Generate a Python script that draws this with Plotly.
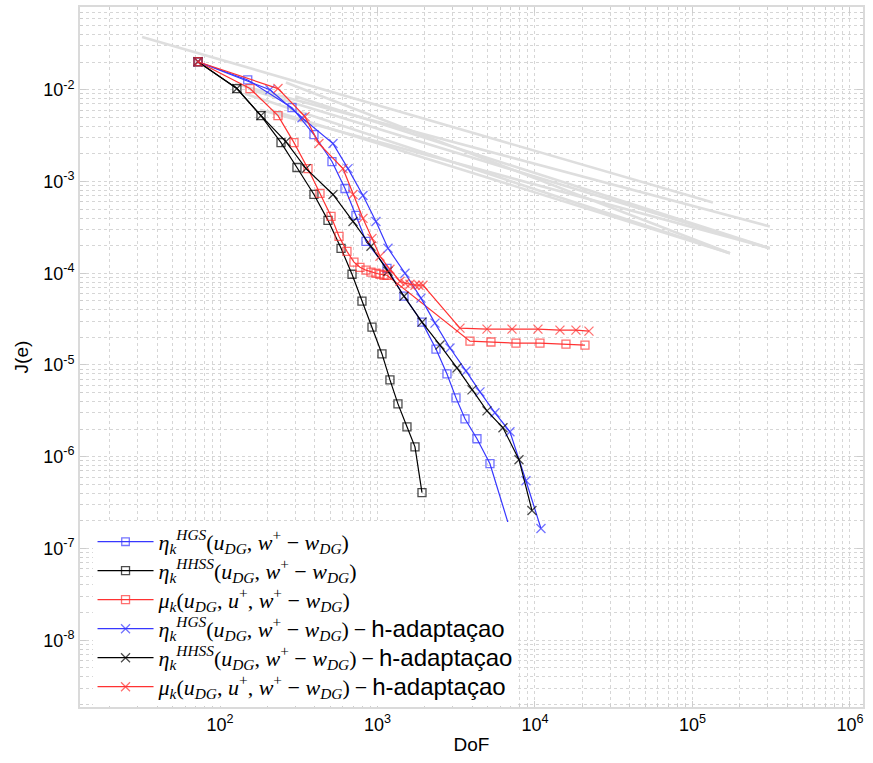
import plotly.graph_objects as go

# ---- error estimates vs degrees of freedom ----
# uniform refinement (squares)
dof_hgs = [72.5, 150, 286.5, 395, 514, 622, 730, 845, 1149, 1473, 1917, 2352, 2762, 3151, 3594, 4283, 5179, 7464]
err_hgs = [2.02e-2, 1.28e-2, 6.37e-3, 3.24e-3, 1.65e-3, 8.39e-4, 4.27e-4, 2.23e-4, 1.13e-4, 5.62e-5,
           2.93e-5, 1.49e-5, 7.98e-6, 4.38e-6, 2.59e-6, 1.57e-6, 8.39e-7, 1.08e-7]

dof_hhss = [72.5, 128, 182, 244, 308, 395, 485, 587, 689, 797, 923, 1068, 1200, 1349, 1539, 1730, 1917]
err_hhss = [2.02e-2, 1.03e-2, 5.22e-3, 2.65e-3, 1.42e-3, 7.22e-4, 3.77e-4, 1.87e-4, 9.75e-5, 4.96e-5,
            2.59e-5, 1.32e-5, 6.87e-6, 3.77e-6, 2.12e-6, 1.28e-6, 4.06e-7]

dof_mu = [72.5, 155, 233.5, 295, 362, 431.5, 507, 570, 640, 709, 774, 845, 909, 978, 1037, 1100, 1149,
          3867, 5255, 7576, 10757, 15733, 20776]
err_mu = [2.02e-2, 1.03e-2, 5.22e-3, 2.65e-3, 1.38e-3, 7.41e-4, 4.17e-4, 2.52e-4, 1.73e-4, 1.32e-4,
          1.16e-4, 1.08e-4, 1.03e-4, 1.0e-4, 9.75e-5, 9.51e-5, 9.51e-5,
          1.82e-5, 1.78e-5, 1.73e-5, 1.73e-5, 1.69e-5, 1.65e-5]

# h-adaptive refinement (crosses)
dof_hgs_h = [72.5, 207.7, 331.6, 522, 650, 809, 978, 1166, 1495, 1889, 2318, 2886, 3647, 4476, 5572,
             6938, 8768, 10916]
err_hgs_h = [2.02e-2, 1.0e-2, 4.96e-3, 2.59e-3, 1.38e-3, 7.04e-4, 3.67e-4, 1.87e-4, 1.0e-4, 5.35e-5,
             2.86e-5, 1.53e-5, 8.61e-6, 5.09e-6, 3.01e-6, 1.87e-6, 5.48e-7, 1.65e-7]

dof_hhss_h = [72.5, 128, 182, 262, 352, 522, 699, 909, 1166, 1473, 1917, 2494, 3198, 3981, 4957, 6264,
              7917, 9572]
err_hhss_h = [2.02e-2, 1.03e-2, 5.22e-3, 2.72e-3, 1.38e-3, 7.22e-4, 3.67e-4, 1.97e-4, 1.05e-4, 5.62e-5,
              2.93e-5, 1.65e-5, 9.28e-6, 5.35e-6, 3.16e-6, 2.07e-6, 9.28e-7, 2.59e-7]

dof_mu_h = [72.5, 233.5, 346.5, 425, 604, 699, 809, 923, 1037, 1200, 1389, 1495, 1608, 1730, 1834, 1945,
            3341, 4957, 7145, 10447, 14410, 18211, 22026]
err_mu_h = [2.02e-2, 1.03e-2, 5.09e-3, 2.59e-3, 1.38e-3, 7.22e-4, 3.96e-4, 2.40e-4, 1.53e-4, 1.105e-4,
            8.18e-5, 7.78e-5, 7.59e-5, 7.41e-5, 7.41e-5, 7.41e-5,
            2.52e-5, 2.46e-5, 2.46e-5, 2.46e-5, 2.40e-5, 2.40e-5, 2.34e-5]

# reference runs drawn in the background (start / end of each run)
ref_dof = [[32.0, 1.349e5], [124.5, 3.10e5], [155, 3.10e5], [144, 1.73e5], [179.5, 3.10e5],
           [207.6, 1.73e5], [262, 1.73e5], [300, 3.10e5]]
ref_err = [[3.77e-2, 5.91e-4], [1.162e-2, 3.24e-4], [1.0e-2, 1.87e-4], [9.05e-3, 1.65e-4],
           [6.06e-3, 1.87e-4], [6.06e-3, 1.65e-4], [1.2e-2, 1.65e-4], [8.5e-3, 1.87e-4]]

x_tickvals = [1e2, 1e3, 1e4, 1e5, 1e6]
x_ticktext = ["10<sup>2</sup>", "10<sup>3</sup>", "10<sup>4</sup>", "10<sup>5</sup>", "10<sup>6</sup>"]
y_tickvals = [1e-2, 1e-3, 1e-4, 1e-5, 1e-6, 1e-7, 1e-8]
y_ticktext = ["10<sup>-2</sup>", "10<sup>-3</sup>", "10<sup>-4</sup>", "10<sup>-5</sup>",
              "10<sup>-6</sup>", "10<sup>-7</sup>", "10<sup>-8</sup>"]

SANS = "Liberation Sans, Arial, sans-serif"
SERIF = "Liberation Serif, DejaVu Serif, serif"
BLUE = "rgb(55,55,255)"
RED = "rgb(255,50,50)"
BLACK = "rgb(0,0,0)"


def math(s):
    return "<span style='font-size:22px'>" + s + "</span>"


suffix = " <span style='font-size:22px'>−</span> <span style='font-family:Liberation Sans;font-size:24px'>h-adaptaçao</span>"
lab_hgs = math("<i>η</i><sub><i>k</i></sub><sup><i>HGS</i></sup>(<i>u</i><sub><i>DG</i></sub>, <i>w</i><sup>+</sup> − <i>w</i><sub><i>DG</i></sub>)")
lab_hhss = math("<i>η</i><sub><i>k</i></sub><sup><i>HHSS</i></sup>(<i>u</i><sub><i>DG</i></sub>, <i>w</i><sup>+</sup> − <i>w</i><sub><i>DG</i></sub>)")
lab_mu = math("<i>μ</i><sub><i>k</i></sub>(<i>u</i><sub><i>DG</i></sub>, <i>u</i><sup>+</sup>, <i>w</i><sup>+</sup> − <i>w</i><sub><i>DG</i></sub>)")

fig = go.Figure()

for xs, ys in zip(ref_dof, ref_err):
    fig.add_trace(go.Scatter(x=xs, y=ys, mode="lines", showlegend=False, hoverinfo="skip",
                             line=dict(color="rgb(222,222,222)", width=2.6)))

series = [
    (dof_hgs, err_hgs, BLUE, "square-open", lab_hgs),
    (dof_hhss, err_hhss, BLACK, "square-open", lab_hhss),
    (dof_mu, err_mu, RED, "square-open", lab_mu),
    (dof_hgs_h, err_hgs_h, BLUE, "x-thin-open", lab_hgs + suffix),
    (dof_hhss_h, err_hhss_h, BLACK, "x-thin-open", lab_hhss + suffix),
    (dof_mu_h, err_mu_h, RED, "x-thin-open", lab_mu + suffix),
]
for i, (xs, ys, col, sym, name) in enumerate(series):
    size = 8 if sym.startswith("square") else 9
    sizes = [size] * len(xs)
    if i == 0:
        # last uniform HGS level sits underneath the legend box
        sizes[-1] = 0
    fig.add_trace(go.Scatter(
        x=xs, y=ys, mode="lines+markers", name=name,
        line=dict(color=col, width=1.2),
        marker=dict(symbol=sym, size=sizes, color=col, line=dict(color=col, width=1.3)),
    ))

grid_col = "rgb(214,214,214)"
axis_common = dict(
    type="log",
    showline=True, linecolor="rgb(218,218,218)", linewidth=2, mirror="ticks",
    ticks="inside", ticklen=6, tickcolor="rgb(205,205,205)",
    showgrid=True, gridcolor=grid_col, griddash="3px,3px", gridwidth=1,
    minor=dict(showgrid=True, gridcolor=grid_col, griddash="3px,3px", gridwidth=1,
               ticks="inside", ticklen=3, tickcolor="rgb(205,205,205)", dtick="D1"),
    tickfont=dict(family=SANS, size=18, color="black"),
    zeroline=False,
)

fig.update_xaxes(**axis_common, range=[1.111, 6.083], tickmode="array",
                 tickvals=x_tickvals, ticktext=x_ticktext,
                 title=dict(text="DoF", font=dict(family=SANS, size=19, color="black"), standoff=4))
fig.update_yaxes(**axis_common, range=[-8.728, -1.098], tickmode="array",
                 tickvals=y_tickvals, ticktext=y_ticktext,
                 title=dict(text="J(e)", font=dict(family=SANS, size=19, color="black"), standoff=10))

fig.update_layout(
    width=873, height=763,
    margin=dict(l=80, r=10, t=5, b=56),
    paper_bgcolor="white", plot_bgcolor="white",
    font=dict(family=SERIF, color="black"),
    legend=dict(x=0.016, y=0.264, xanchor="left", yanchor="top",
                bgcolor="white", borderwidth=0,
                font=dict(family=SERIF, size=20, color="black"),
                tracegroupgap=0, itemwidth=56),
)

fig.write_html("out.html")
